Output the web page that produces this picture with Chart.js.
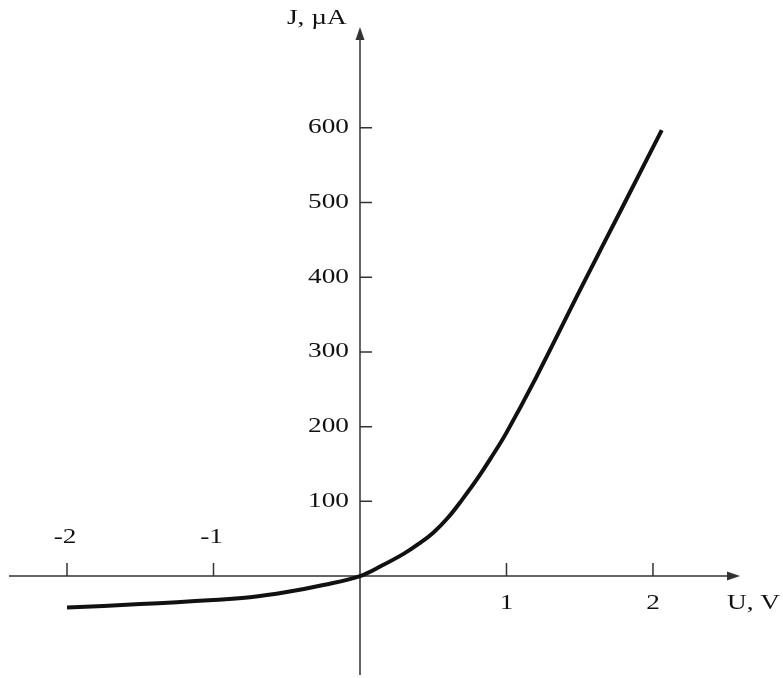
<!DOCTYPE html>
<html>
<head>
<meta charset="utf-8">
<script src="https://cdn.jsdelivr.net/npm/chart.js@4"></script>
<style>
  body { margin: 0; background: #fff; }
</style>
</head>
<body>
<canvas id="myChart" width="783" height="678"></canvas>
<script>
// current-voltage curve
var voltage = [-2.0, -1.75, -1.5, -1.25, -1.0, -0.75, -0.5, -0.25, 0, 0.15, 0.3, 0.4, 0.5, 0.6, 0.7, 0.8, 0.9, 1.0, 1.2, 1.5, 1.8, 2.06];
var current = [-42, -40, -37.5, -35, -32, -28.5, -21.5, -12, 0, 14, 30, 43, 58, 78, 103, 130, 160, 192, 265, 382, 497, 597];

var uTicks = [-2, -1, 1, 2];
var jTicks = [100, 200, 300, 400, 500, 600];
var uTitle = "U, V";
var jTitle = "J, \u00b5A";

var points = [];
for (var i = 0; i < voltage.length; i++) {
  points.push({ x: voltage[i], y: current[i] });
}

var font = '21px "Liberation Serif", "Times New Roman", serif';
var axisColor = '#333';
var stretch = 1.3; // the lettering in the picture is wide

function arrow(ctx, x, y, dir) {
  ctx.beginPath();
  if (dir == 'up') {
    ctx.moveTo(x, y);
    ctx.lineTo(x - 4.5, y + 13);
    ctx.lineTo(x + 4.5, y + 13);
  } else {
    ctx.moveTo(x, y);
    ctx.lineTo(x - 13, y - 4.5);
    ctx.lineTo(x - 13, y + 4.5);
  }
  ctx.closePath();
  ctx.fill();
}

function label(ctx, text, x, y, align) {
  ctx.save();
  ctx.translate(x, y);
  ctx.scale(stretch, 1);
  ctx.textAlign = align;
  ctx.fillText(text, 0, 0);
  ctx.restore();
}

// axes crossing at the origin, drawn under the curve
var axesPlugin = {
  id: 'axes',
  beforeDatasetsDraw: function (chart) {
    var ctx = chart.ctx;
    var area = chart.chartArea;
    var sx = chart.scales.x;
    var sy = chart.scales.y;
    var x0 = sx.getPixelForValue(0);
    var y0 = sy.getPixelForValue(0);

    ctx.save();
    ctx.strokeStyle = axisColor;
    ctx.fillStyle = axisColor;
    ctx.lineWidth = 1.5;

    ctx.beginPath();
    ctx.moveTo(area.left, y0);
    ctx.lineTo(area.right - 6, y0);
    ctx.moveTo(x0, area.bottom);
    ctx.lineTo(x0, area.top + 6);
    ctx.stroke();
    arrow(ctx, area.right, y0, 'right');
    arrow(ctx, x0, area.top, 'up');

    // tick marks
    ctx.beginPath();
    uTicks.forEach(function (u) {
      var px = sx.getPixelForValue(u);
      ctx.moveTo(px, y0);
      ctx.lineTo(px, y0 - 13);
    });
    jTicks.forEach(function (j) {
      var py = sy.getPixelForValue(j);
      ctx.moveTo(x0, py);
      ctx.lineTo(x0 + 12, py);
    });
    ctx.stroke();
    ctx.restore();
  },
  afterDraw: function (chart) {
    var ctx = chart.ctx;
    var area = chart.chartArea;
    var sx = chart.scales.x;
    var sy = chart.scales.y;
    var x0 = sx.getPixelForValue(0);
    var y0 = sy.getPixelForValue(0);

    ctx.save();
    ctx.fillStyle = '#111';
    ctx.font = font;
    ctx.textBaseline = 'middle';

    uTicks.forEach(function (u) {
      var px = sx.getPixelForValue(u);
      if (u < 0) {
        label(ctx, String(u), px - 2, y0 - 39, 'center');
      } else {
        label(ctx, String(u), px, y0 + 27, 'center');
      }
    });

    jTicks.forEach(function (j) {
      label(ctx, String(j), x0 - 11, sy.getPixelForValue(j), 'right');
    });

    label(ctx, uTitle, area.right - 13, y0 + 27, 'left');
    label(ctx, jTitle, x0 - 73, area.top - 9, 'left');
    ctx.restore();
  }
};

var ctx = document.getElementById('myChart').getContext('2d');
var myChart = new Chart(ctx, {
  type: 'scatter',
  data: {
    datasets: [{
      label: jTitle,
      data: points,
      showLine: true,
      borderColor: '#111',
      borderWidth: 4,
      pointRadius: 0,
      tension: 0.4,
      fill: false
    }]
  },
  options: {
    responsive: false,
    animation: false,
    layout: { padding: { left: 9, right: 43, top: 27, bottom: 3 } },
    plugins: {
      legend: { display: false },
      tooltip: { enabled: false }
    },
    scales: {
      x: { type: 'linear', min: -2.396, max: 2.594, display: false },
      y: { type: 'linear', min: -132.5, max: 735, display: false }
    }
  },
  plugins: [axesPlugin]
});
</script>
</body>
</html>
